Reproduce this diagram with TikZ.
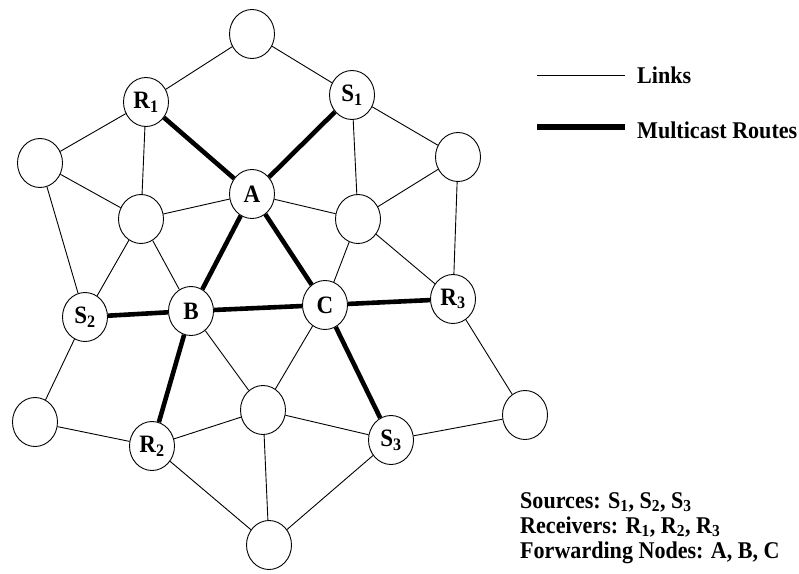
\documentclass[tikz,border=0pt]{standalone}
\usepackage{fontspec}
\setmainfont{Liberation Serif}[FakeStretch=0.92]
\usetikzlibrary{shapes.geometric}
\begin{document}
\begin{tikzpicture}[x=1pt,y=-1pt,
  nd/.style={draw, ellipse, minimum width=45pt, minimum height=49pt, inner sep=0pt, line width=0.9pt, font=\fontsize{25}{27}\selectfont\bfseries},
  link/.style={line width=0.9pt},
  route/.style={line width=4.6pt},
  legroute/.style={line width=5.5pt},
  txt/.style={font=\fontsize{24}{26}\selectfont\bfseries, inner sep=0pt}]
\useasboundingbox (0,0) rectangle (799,573);
% nodes
\node[nd] (top) at (252,34) {};
\node[nd] (R1) at (146,102) {R\textsubscript{1}};
\node[nd] (S1) at (352,95) {S\textsubscript{1}};
\node[nd] (L1) at (40,163) {};
\node[nd] (A) at (252,194) {A};
\node[nd] (Li) at (141,219) {};
\node[nd] (Ri) at (358,219) {};
\node[nd] (Rt) at (458,157) {};
\node[nd] (S2) at (85,317) {S\textsubscript{2}};
\node[nd] (B) at (191,311) {B};
\node[nd] (C) at (325,305) {C};
\node[nd] (R3) at (453,299) {R\textsubscript{3}};
\node[nd] (BL) at (35,422) {};
\node[nd] (R2) at (152,446) {R\textsubscript{2}};
\node[nd] (BM) at (263,410) {};
\node[nd] (S3) at (391,440) {S\textsubscript{3}};
\node[nd] (RB) at (525,415) {};
\node[nd] (Bot) at (269,545) {};
% links
\draw[link] (top) -- (R1);
\draw[link] (top) -- (S1);
\draw[link] (R1) -- (L1);
\draw[link] (R1) -- (Li);
\draw[link] (S1) -- (Ri);
\draw[link] (S1) -- (Rt);
\draw[link] (L1) -- (Li);
\draw[link] (L1) -- (S2);
\draw[link] (Li) -- (A);
\draw[link] (Li) -- (S2);
\draw[link] (Li) -- (B);
\draw[link] (A) -- (Ri);
\draw[link] (Ri) -- (Rt);
\draw[link] (Ri) -- (C);
\draw[link] (Ri) -- (R3);
\draw[link] (Rt) -- (R3);
\draw[link] (S2) -- (BL);
\draw[link] (BL) -- (R2);
\draw[link] (B) -- (BM);
\draw[link] (C) -- (BM);
\draw[link] (R2) -- (BM);
\draw[link] (R2) -- (Bot);
\draw[link] (BM) -- (S3);
\draw[link] (BM) -- (Bot);
\draw[link] (S3) -- (RB);
\draw[link] (S3) -- (Bot);
\draw[link] (R3) -- (RB);
% multicast routes
\draw[route] (R1) -- (A);
\draw[route] (S1) -- (A);
\draw[route] (A) -- (B);
\draw[route] (A) -- (C);
\draw[route] (S2) -- (B);
\draw[route] (B) -- (C);
\draw[route] (C) -- (R3);
\draw[route] (C) -- (S3);
\draw[route] (B) -- (R2);
% legend
\coordinate (la) at (537,75);
\coordinate (lb) at (625,75);
\draw[link] (la) -- (lb);
\node[txt, anchor=base west] (links) at (637,83) {Links};
\coordinate (ma) at (537,127);
\coordinate (mb) at (625,127);
\draw[legroute] (ma) -- (mb);
\node[txt, anchor=base west] (mroutes) at (637,138) {Multicast Routes};
% notes
\node[txt, anchor=base west] (src) at (520,508) {Sources: S\textsubscript{1}, S\textsubscript{2}, S\textsubscript{3}};
\node[txt, anchor=base west] (rcv) at (520,533) {Receivers: R\textsubscript{1}, R\textsubscript{2}, R\textsubscript{3}};
\node[txt, anchor=base west] (fwd) at (520,558) {Forwarding Nodes: A, B, C};
\end{tikzpicture}
\end{document}
